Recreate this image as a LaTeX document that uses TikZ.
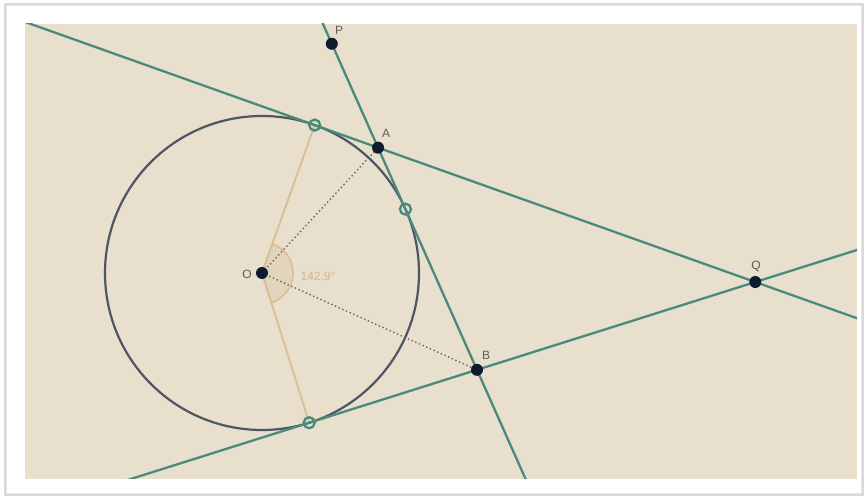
\documentclass[tikz,border=0pt]{standalone}
\usepackage{fontspec}
\setmainfont{Liberation Sans}
\usetikzlibrary{calc}
\definecolor{bgbeige}{HTML}{E8DFCD}
\definecolor{lineteal}{HTML}{4A8A7C}
\definecolor{circgrey}{HTML}{4F5663}
\definecolor{radtan}{HTML}{D9BF92}
\definecolor{angtan}{HTML}{D4B682}
\definecolor{ptnavy}{HTML}{0E1A30}
\definecolor{lblgrey}{HTML}{5C5C5C}
\tikzset{
  tline/.style={draw=lineteal, line width=2.3pt},
  radius line/.style={draw=radtan, line width=1.8pt},
  dotline/.style={draw=gray!80!black, line width=1.4pt, dash pattern=on 1.4pt off 2.6pt},
  ptdot/.style={circle, fill=ptnavy, inner sep=0pt, minimum size=12pt},
  tring/.style={circle, draw=lineteal, line width=2.3pt, inner sep=0pt, minimum size=11pt},
  lbl/.style={text=lblgrey, font=\fontsize{12}{14}\selectfont, inner sep=0pt},
}
\begin{document}
\begin{tikzpicture}[x=1pt,y=1pt]
\useasboundingbox (0,0) rectangle (865,497);
\fill[white] (0,0) rectangle (865,497);
\fill[gray!30] (4,1) rectangle (864,494);
\filldraw[fill=white, draw=gray!20] (6,4) rectangle (861,492);
\fill[bgbeige] (25,18) rectangle (857,473);
% geometry
\coordinate (Oc) at (262,224);
\coordinate (T1c) at ($(Oc)+(70.4:157)$);
\coordinate (T2c) at ($(Oc)+(24:157)$);
\coordinate (T3c) at ($(Oc)+(-72.5:157)$);
\coordinate (Ac) at ($(Oc)+(47.2:170.8)$);
\coordinate (Bc) at ($(Oc)+(-24.25:235.8)$);
\coordinate (Qc) at ($(Oc)+(-1.05:493.4)$);
\coordinate (Pc) at ($(T2c)+(114:181)$);
% radii
\draw[radius line] (Oc) -- (T1c);
\draw[radius line] (Oc) -- (T3c);
% angle
\filldraw[fill=radtan, fill opacity=0.3, draw=radtan, line width=1.6pt]
  (Oc) -- ($(Oc)+(-72.5:31)$) arc[start angle=-72.5, end angle=70.4, radius=31] -- cycle;
\node[text=angtan, font=\fontsize{12}{14}\selectfont, inner sep=0pt] (ang) at (318,221) {142.9°};
% dotted
\draw[dotline] (Oc) -- (Ac);
\draw[dotline] (Oc) -- (Bc);
% circle
\draw[circgrey, line width=2.2pt] (Oc) circle[radius=157];
% tangent lines
\begin{scope}
\clip (25,18) rectangle (857,473);
\draw[tline] ($(T1c)!-3!(Qc)$) -- ($(Qc)!-3!(T1c)$);
\draw[tline] ($(T3c)!-3!(Qc)$) -- ($(Qc)!-3!(T3c)$);
\draw[tline] ($(Pc)!-3!(Bc)$) -- ($(Bc)!-3!(Pc)$);
\end{scope}
% tangent point rings
\node[tring] (T1) at (T1c) {};
\node[tring] (T2) at (T2c) {};
\node[tring] (T3) at (T3c) {};
% points
\node[ptdot] (O) at (Oc) {};
\node[ptdot] (A) at (Ac) {};
\node[ptdot] (B) at (Bc) {};
\node[ptdot] (Q) at (Qc) {};
\node[ptdot] (P) at (Pc) {};
% labels
\node[lbl] (Ol) at (247,223) {O};
\node[lbl] (Al) at (386,364) {A};
\node[lbl] (Bl) at (486,142) {B};
\node[lbl] (Ql) at (756,231) {Q};
\node[lbl] (Pl) at (339,467) {P};
\end{tikzpicture}
\end{document}
